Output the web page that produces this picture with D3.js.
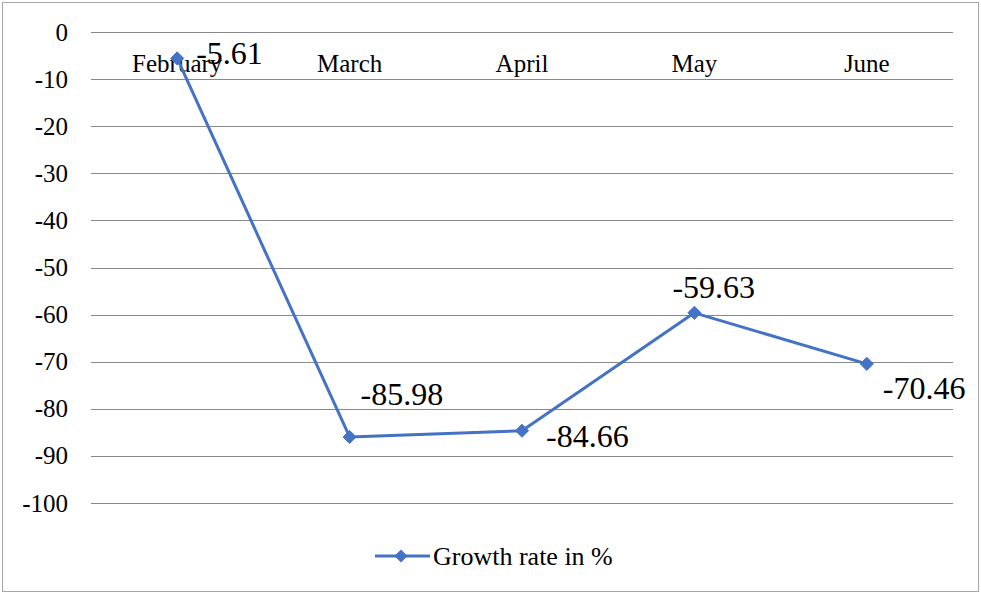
<!DOCTYPE html>
<html><head><meta charset="utf-8">
<script src="https://cdn.jsdelivr.net/npm/d3@7"></script>
<style>
html,body{margin:0;padding:0;background:#fff;}
svg text{font-family:"Liberation Serif","Times New Roman","DejaVu Serif",serif !important;}
</style></head>
<body><svg id="c" width="981" height="593"></svg>
<script>
const categories = ["February","March","April","May","June"];
const values = [-5.61,-85.98,-84.66,-59.63,-70.46];
const yTicks = [0,-10,-20,-30,-40,-50,-60,-70,-80,-90,-100];
const seriesName = "Growth rate in %";
// label placement offsets (dx, dy) relative to point
const labelOffsets = [[19,-6],[11,-43],[24,5],[-22,-26],[16,24]];

const svg = d3.select("#c");
const W = 981, H = 593;
svg.append("rect").attr("x",2.5).attr("y",2.5).attr("width",W-5).attr("height",H-4)
  .attr("fill","#fff").attr("stroke","#a6a6a6").attr("stroke-width",1);

const x = d3.scaleBand().domain(categories).range([91,953]);
const y = d3.scaleLinear().domain([-100,0]).range([503,32]);
const blue = "#4472C4";

svg.append("g").selectAll("line").data(yTicks).join("line")
  .attr("x1",91).attr("x2",953)
  .attr("y1",d=>Math.round(y(d))+0.5).attr("y2",d=>Math.round(y(d))+0.5)
  .attr("stroke","#898989").attr("stroke-width",1);

const yAxis = d3.axisLeft(y).tickValues(yTicks).tickSize(0).tickPadding(0).tickFormat(d=>String(d));
const gy = svg.append("g").attr("transform","translate(68,0)").call(yAxis);
gy.select(".domain").remove();
gy.attr("font-family",null).attr("font-size",null);
gy.selectAll("text").attr("font-size",25).attr("fill","#000");

const xAxis = d3.axisTop(x).tickSize(0).tickPadding(0);
const gx = svg.append("g").attr("transform","translate(0,72)").call(xAxis);
gx.select(".domain").remove();
gx.attr("font-family",null).attr("font-size",null);
gx.selectAll("text").attr("font-size",25).attr("fill","#000");

const line = d3.line().x((d,i)=>x(categories[i])+x.bandwidth()/2).y(d=>y(d));
svg.append("path").datum(values).attr("d",line).attr("fill","none")
  .attr("stroke",blue).attr("stroke-width",3).attr("stroke-linejoin","round");

const diamond = d3.symbol().type(d3.symbolDiamond2).size(110);
svg.append("g").selectAll("path").data(values).join("path")
  .attr("d",diamond)
  .attr("transform",(d,i)=>`translate(${x(categories[i])+x.bandwidth()/2},${y(d)})`)
  .attr("fill",blue).attr("stroke",blue).attr("stroke-width",1);

svg.append("g").selectAll("text").data(values).join("text")
  .attr("x",(d,i)=>x(categories[i])+x.bandwidth()/2+labelOffsets[i][0])
  .attr("y",(d,i)=>y(d)+labelOffsets[i][1])
  .attr("dy","0.35em")
  .attr("font-size",32).attr("fill","#000")
  .text(d=>d.toFixed(2));

const lg = svg.append("g");
lg.append("line").attr("x1",375).attr("x2",430).attr("y1",556).attr("y2",556)
  .attr("stroke",blue).attr("stroke-width",3);
lg.append("path").attr("d",diamond).attr("transform","translate(401,556)").attr("fill",blue);
lg.append("text").attr("x",433).attr("y",556).attr("dy","0.35em").attr("font-size",26)
  .attr("fill","#000").text(seriesName);
</script></body></html>
